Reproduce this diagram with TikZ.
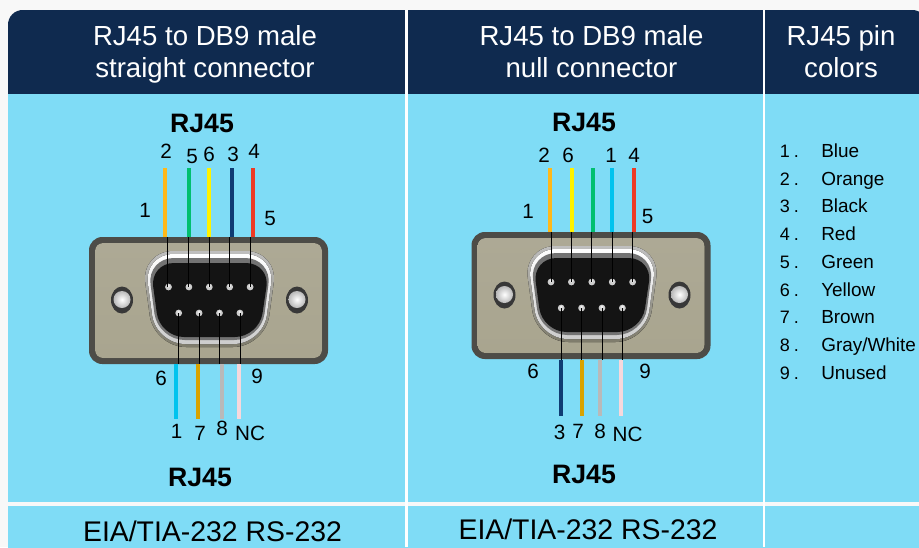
\documentclass[tikz,border=0pt]{standalone}
\usepackage{fontspec}
\setmainfont{Liberation Sans}
\usetikzlibrary{calc}
\definecolor{pageBg}{HTML}{F8F8F8}
\definecolor{headNavy}{HTML}{0F2A4F}
\definecolor{bodyBlue}{HTML}{7FDCF6}
\definecolor{wOrange}{HTML}{FFB819}
\definecolor{wGreen}{HTML}{00BF6F}
\definecolor{wYellow}{HTML}{FFF200}
\definecolor{wNavy}{HTML}{0F3C73}
\definecolor{wRed}{HTML}{EE3A24}
\definecolor{wCyan}{HTML}{00C3EE}
\definecolor{wBrown}{HTML}{D9A300}
\definecolor{wGray}{HTML}{B9B9B9}
\definecolor{wPink}{HTML}{F8D8DC}
\definecolor{bodyDark}{HTML}{4D4C47}
\definecolor{plateA}{HTML}{ADA995}
\definecolor{plateB}{HTML}{A9A58F}
\tikzset{
  x=0.75pt,y=-0.75pt,
  headtxt/.style={text=white,font=\fontsize{20.7}{24}\selectfont,align=center,inner sep=0},
  foottxt/.style={text=black,font=\fontsize{21.3}{24}\selectfont,inner sep=0},
  pinno/.style={text=black,font=\fontsize{15.5}{18}\selectfont,inner sep=0},
  jack/.style={text=black,font=\bfseries\fontsize{20}{24}\selectfont,inner sep=0},
  listno/.style={text=black,font=\fontsize{13.5}{16}\selectfont,inner sep=0,anchor=base west},
  listname/.style={text=black,font=\fontsize{14.2}{17}\selectfont,inner sep=0,anchor=base west},
  wire/.style={line width=3pt},
  lead/.style={line width=0.6pt,black},
}
% connector body, origin at the left connector's frame
\newcommand{\dbshell}{%
  \fill[bodyDark,rounded corners=10pt] (89,237) rectangle (328,364);
  \fill[top color=plateA,bottom color=plateB,rounded corners=6pt] (95,243) rectangle (322,358);
  \fill[top color=gray!50,bottom color=black!25!plateB,rounded corners=24pt] (141,251) -- (278,251) -- (265,347) -- (154,347) -- cycle;
  \fill[top color=white,bottom color=white!60!gray,rounded corners=22pt] (144,254) -- (275,254) -- (263,344) -- (156,344) -- cycle;
  \fill[black!55,rounded corners=20pt] (147,258) -- (272,258) -- (261,340) -- (158,340) -- cycle;
  \fill[black!92,rounded corners=18pt] (150,263) -- (270,263) -- (259,337) -- (160,337) -- cycle;
  \foreach \sx in {122,297}{
    \fill[black!78] (\sx,300) ellipse [x radius=11,y radius=13.5];
    \shade[inner color=white,outer color=gray!55] (\sx,299.5) circle [radius=8.5];
  }
  \foreach \px in {168.5,188.9,209.3,229.7,250.1}{
    \fill[gray!40] (\px,287) circle [radius=3.4];
    \fill[white!85!gray] (\px,286) circle [radius=1.6];
  }
  \foreach \px in {178.7,199.1,219.5,239.9}{
    \fill[gray!40] (\px,313) circle [radius=3.4];
    \fill[white!85!gray] (\px,312) circle [radius=1.6];
  }
}
\begin{document}
\begin{tikzpicture}
\useasboundingbox (0,0) rectangle (919,547);
\fill[pageBg] (0,0) rectangle (919,547);
% table
\begin{scope}
\clip (0,0) rectangle (919,547);
\fill[headNavy,rounded corners=11pt] (8,10) rectangle (927,110);
\fill[bodyBlue] (8,94) rectangle (919,502);
\fill[bodyBlue,rounded corners=7pt] (8,520) rectangle (927,560);
\fill[bodyBlue] (8,505.5) rectangle (919,530);
\fill[white] (405,10) rectangle (407.5,547);
\fill[white] (762.5,10) rectangle (765,547);
\end{scope}
\node[headtxt] (h1) at (205,54) {RJ45 to DB9 male\\straight connector};
\node[headtxt] (h2) at (591.5,54) {RJ45 to DB9 male\\null connector\vphantom{g}};
\node[headtxt] (h3) at (841,54) {RJ45 pin\\colors\vphantom{g}};
\node[foottxt] (f1) at (212.5,531) {EIA/TIA-232 RS-232};
\node[foottxt] (f2) at (588,529) {EIA/TIA-232 RS-232};
% colour list
\foreach \n/\name/\y in {1/Blue/151,2/Orange/179,3/Black/206,4/Red/234,5/Green/262,6/Yellow/290,7/Brown/317,8/Gray\slash White/345,9/Unused/373}{
  \node[listno] (ln\n) at (779.5,\y+6) {\n\hspace{0.22em}.};
  \node[listname] (lc\n) at (821,\y+6) {\name};
}
% left connector
\dbshell
\foreach \i/\wx/\px/\col in {a/165/167.7/wOrange,b/189/188.5/wGreen,c/209.3/209.3/wYellow,d/231.7/229.5/wNavy,e/253.3/250.3/wRed}{
  \coordinate (Lt\i) at (\wx,168);
  \coordinate (Lb\i) at (\wx,237);
  \coordinate (Lp\i) at (\px,287);
  \draw[wire,\col] (Lt\i) -- (Lb\i);
  \draw[lead] (\px,237) -- (Lp\i);
}
\foreach \i/\wx/\px/\col in {a/176.3/178.7/wCyan,b/198/199.1/wBrown,c/221.7/219.5/wGray,d/239.3/239.9/wPink}{
  \coordinate (Lq\i) at (\px,313);
  \coordinate (Lr\i) at (\wx,364);
  \coordinate (Ls\i) at (\wx,419);
  \draw[wire,\col] (Lr\i) -- (Ls\i);
  \draw[lead] (Lq\i) -- (\px,364);
}
\node[jack] (j1) at (202,123) {RJ45};
\node[jack] (j2) at (200,477) {RJ45};
\foreach \t/\x/\y [count=\k] in {2/166/151,5/192/156,6/209/154,3/233/154,4/254/151,1/145/210,5/270/218,6/161/378,9/257/376,1/176.5/431,7/200/433,8/222/428,NC/250/433}{
  \node[pinno] (lt\k) at (\x,\y) {\t};
}
% right connector
\begin{scope}[shift={(382.5,-5)}]
\dbshell
\end{scope}
\foreach \i/\wx/\px/\col in {a/550/551/wOrange,b/572.3/571.4/wYellow,c/592.7/591.8/wGreen,d/611.7/612.2/wCyan,e/634/632.6/wRed}{
  \coordinate (Rt\i) at (\wx,168);
  \coordinate (Rb\i) at (\wx,232);
  \coordinate (Rp\i) at (\px,282);
  \draw[wire,\col] (Rt\i) -- (Rb\i);
  \draw[lead] (\px,232) -- (Rp\i);
}
\foreach \i/\wx/\px/\col in {a/561/561.2/wNavy,b/582.3/581.6/wBrown,c/600.3/602/wGray,d/621.3/622.4/wPink}{
  \coordinate (Rq\i) at (\px,308);
  \coordinate (Rr\i) at (\wx,360);
  \coordinate (Rs\i) at (\wx,416);
  \draw[wire,\col] (Rr\i) -- (Rs\i);
  \draw[lead] (Rq\i) -- (\px,360);
}
\node[jack] (j3) at (584,122) {RJ45};
\node[jack] (j4) at (584,474) {RJ45};
\foreach \t/\x/\y [count=\k] in {2/544/155,6/568/155,1/611/155,4/634/155,1/528/211,5/647.5/216,6/533/371,9/645/371,3/559.5/432,7/578/431,8/600/431,NC/627.5/434}{
  \node[pinno] (rt\k) at (\x,\y) {\t};
}
\end{tikzpicture}
\end{document}
